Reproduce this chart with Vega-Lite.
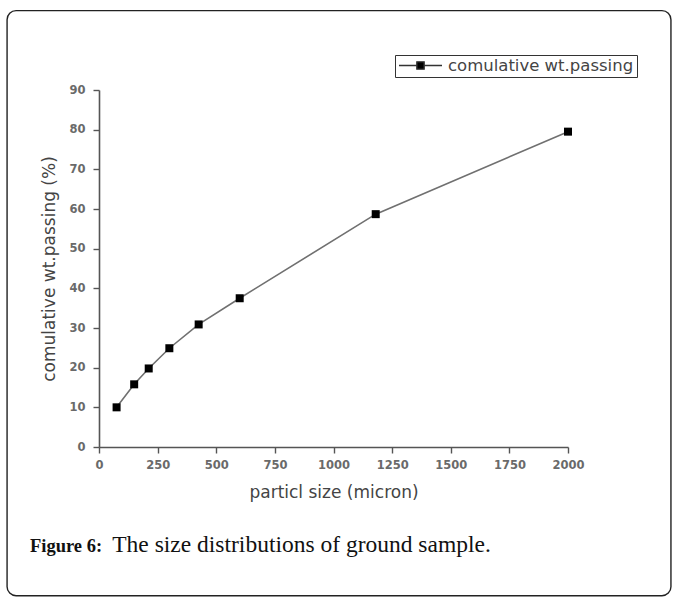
{
  "$schema": "https://vega.github.io/schema/vega-lite/v6.json",
  "width": 469,
  "height": 357,
  "autosize": {"type": "none"},
  "padding": {"left": 99, "top": 90, "right": 110, "bottom": 154},
  "background": "white",
  "config": {
    "view": {"stroke": null},
    "axis": {
      "domainColor": "#555",
      "domainWidth": 1.6,
      "tickColor": "#555",
      "tickWidth": 1.4,
      "tickSize": 6,
      "grid": false,
      "labelOverlap": false,
      "labelFont": "DejaVu Sans",
      "labelFontSize": 11.5,
      "labelFontWeight": "bold",
      "labelColor": "#6a6a6a",
      "titleFont": "DejaVu Sans",
      "titleFontSize": 17,
      "titleFontWeight": "normal",
      "titleColor": "#444"
    },
    "axisX": {"labelPadding": 6, "titlePadding": 14, "labelFlush": false},
    "axisY": {"labelPadding": 8, "titlePadding": 10, "labelFlush": false}
  },
  "title": {
    "text": "Figure 6:",
    "subtitle": "\u200b\u00a0\u00a0\u00a0\u00a0\u00a0\u00a0\u00a0\u00a0\u00a0\u00a0\u00a0\u00a0\u00a0\u00a0The size distributions of ground sample.",
    "orient": "bottom",
    "anchor": "start",
    "frame": "group",
    "font": "Liberation Serif",
    "fontSize": 18.5,
    "fontWeight": "bold",
    "color": "#111",
    "subtitleFont": "Liberation Serif",
    "subtitleFontSize": 23.5,
    "subtitleFontWeight": "normal",
    "subtitleColor": "#111",
    "subtitlePadding": -22.8,
    "dx": -69,
    "offset": -59
  },
  "data": {
    "values": [
      {"size": 75, "pct": 10.0, "series": "comulative wt.passing"},
      {"size": 150, "pct": 15.8, "series": "comulative wt.passing"},
      {"size": 212, "pct": 19.8, "series": "comulative wt.passing"},
      {"size": 300, "pct": 24.9, "series": "comulative wt.passing"},
      {"size": 425, "pct": 30.9, "series": "comulative wt.passing"},
      {"size": 600, "pct": 37.5, "series": "comulative wt.passing"},
      {"size": 1180, "pct": 58.7, "series": "comulative wt.passing"},
      {"size": 2000, "pct": 79.5, "series": "comulative wt.passing"}
    ]
  },
  "layer": [
    {
      "mark": {"type": "line", "color": "#707070", "strokeWidth": 1.6},
      "encoding": {
        "x": {
          "field": "size",
          "type": "quantitative",
          "title": "particl size (micron)",
          "scale": {"domain": [0, 2000], "nice": false, "zero": false},
          "axis": {"values": [0, 250, 500, 750, 1000, 1250, 1500, 1750, 2000], "format": "d"}
        },
        "y": {
          "field": "pct",
          "type": "quantitative",
          "title": "comulative wt.passing (%)",
          "scale": {"domain": [0, 90], "nice": false, "zero": false},
          "axis": {"values": [0, 10, 20, 30, 40, 50, 60, 70, 80, 90], "format": "d", "tickCount": 10}
        }
      }
    },
    {
      "mark": {"type": "point", "shape": "square", "filled": true, "size": 64, "opacity": 1},
      "encoding": {
        "x": {
          "field": "size",
          "type": "quantitative",
          "title": "particl size (micron)",
          "axis": {"values": [0, 250, 500, 750, 1000, 1250, 1500, 1750, 2000], "format": "d"}
        },
        "y": {
          "field": "pct",
          "type": "quantitative",
          "title": "comulative wt.passing (%)",
          "axis": {"values": [0, 10, 20, 30, 40, 50, 60, 70, 80, 90], "format": "d", "tickCount": 10}
        },
        "color": {
          "field": "series",
          "type": "nominal",
          "scale": {"range": ["#000"]},
          "legend": {
            "title": null,
            "orient": "none",
            "legendX": 296,
            "legendY": -35,
            "strokeColor": "#333",
            "padding": 3,
            "symbolType": "M-1,0H-0.2M0.2,0H1M-0.17,-0.17H0.17V0.17H-0.17Z",
            "symbolSize": 1849,
            "symbolStrokeWidth": 1.4,
            "symbolStrokeColor": "#333",
            "symbolFillColor": "#000",
            "clipHeight": 15,
            "labelFont": "DejaVu Sans",
            "labelFontSize": 16.5,
            "labelColor": "#444",
            "labelOffset": 5,
            "labelLimit": 400
          }
        }
      }
    },
    {
      "data": {"values": [{}]},
      "mark": {"type": "rect", "filled": false, "stroke": "#222", "strokeWidth": 1.4, "cornerRadius": 9},
      "encoding": {
        "x": {
          "datum": -392,
          "type": "quantitative",
          "title": "particl size (micron)",
          "axis": {"values": [0, 250, 500, 750, 1000, 1250, 1500, 1750, 2000], "format": "d"}
        },
        "x2": {"datum": 2439},
        "y": {
          "datum": 110,
          "type": "quantitative",
          "title": "comulative wt.passing (%)",
          "axis": {"values": [0, 10, 20, 30, 40, 50, 60, 70, 80, 90], "format": "d", "tickCount": 10}
        },
        "y2": {"datum": -37.5}
      }
    }
  ]
}
